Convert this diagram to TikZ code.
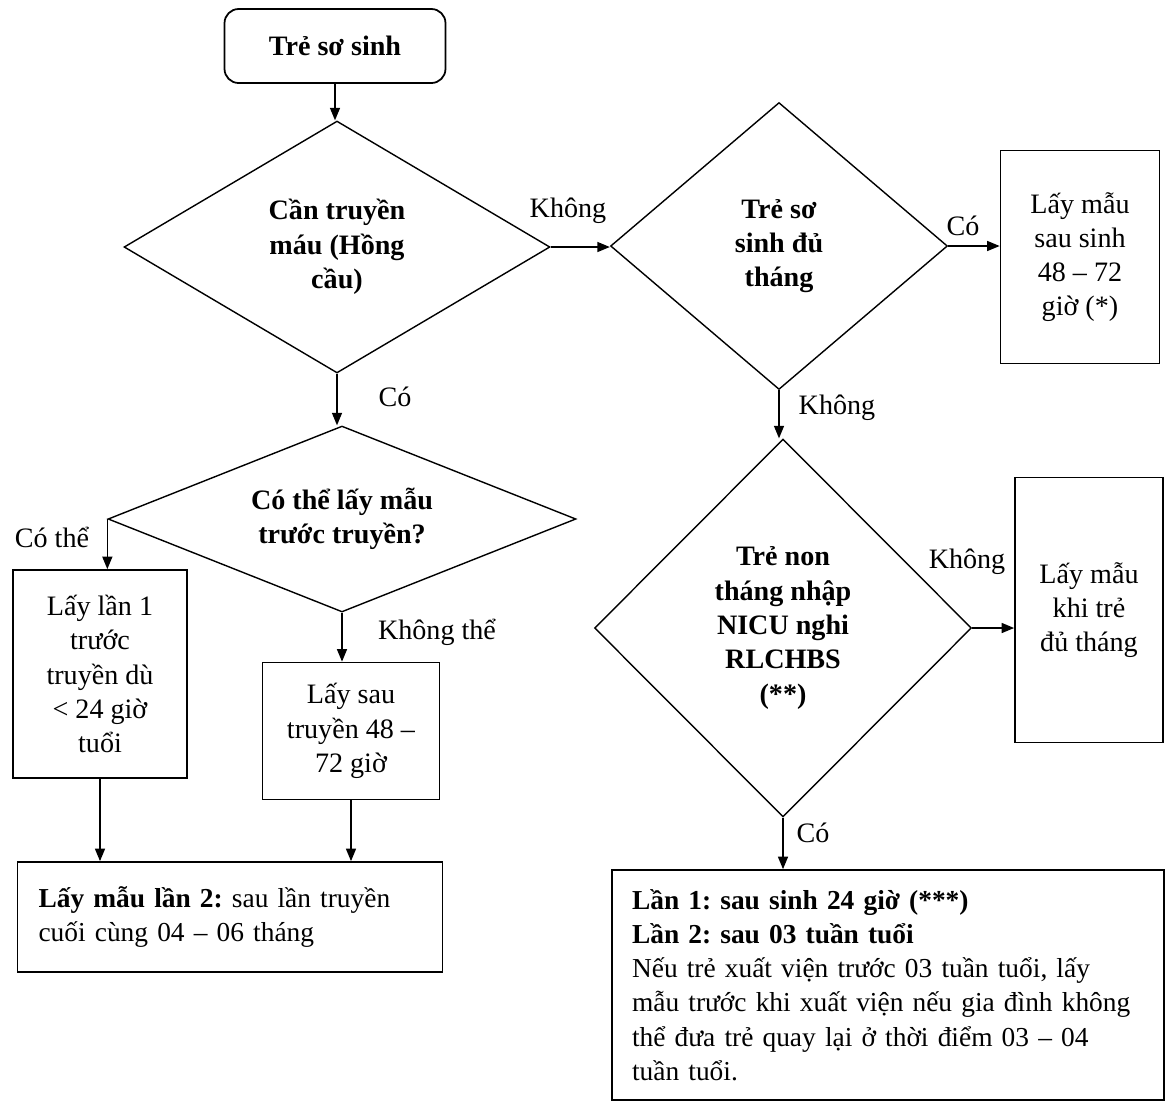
\documentclass[tikz,border=0pt]{standalone}
\usepackage{fontspec}
\setmainfont{Liberation Serif}
\usetikzlibrary{shapes.geometric,arrows.meta}
\frenchspacing
\tikzset{
  chu/.style={font=\fontsize{16}{19.5}\selectfont},
  hop/.style={draw, line width=1pt, align=center, inner sep=2pt, chu},
  hoi/.style={draw, diamond, line width=0.8pt, align=center, inner sep=1pt,
    font=\fontsize{16}{19.5}\selectfont\bfseries},
  muiten/.style={line width=0.8pt, -{Triangle[length=0.25cm,width=0.2cm]}}
}

\begin{document}
\begin{tikzpicture}[x=0.02cm,y=-0.02cm]
    \useasboundingbox (0,0) rectangle (1166,1107);
    % cac o hoi
    \node[hop, rounded corners=8pt, minimum width=4.42cm, minimum height=1.48cm,
      font=\fontsize{16}{19.5}\selectfont\bfseries] (batdau) at (335,46) {Trẻ sơ sinh};
    \node[hoi, aspect=1.7, minimum width=8.52cm, minimum height=5.04cm] (q1) at (337,247)
      {Cần truyền\\máu (Hồng\\cầu)};
    \node[hoi, aspect=2.5, minimum width=9.36cm, minimum height=3.72cm] (q2) at (342,519)
      {Có thể lấy mẫu\\trước truyền?};
    \node[hoi, aspect=1.17, minimum width=6.74cm, minimum height=5.74cm] (q3) at (779,246)
      {Trẻ sơ\\sinh đủ\\tháng};
    \node[hoi, aspect=1, minimum width=7.54cm, minimum height=7.56cm] (q4) at (783,628)
      {Trẻ non\\tháng nhập\\NICU nghi\\RLCHBS\\(**)};
    % cac o ket qua
    \node[hop, minimum width=3.18cm, minimum height=4.26cm] (a1) at (1080,257)
      {Lấy mẫu\\sau sinh\\48 – 72\\giờ (*)};
    \node[hop, minimum width=2.96cm, minimum height=5.3cm] (a2) at (1089,610)
      {Lấy mẫu\\khi trẻ\\đủ tháng};
    \node[hop, align=left, text width=10.24cm, inner xsep=0.4cm, minimum height=4.6cm,
      font=\fontsize{15.6}{19.5}\selectfont] (a3) at (888,985)
      {\textbf{Lần 1: sau sinh 24 giờ (***)}\\
       \textbf{Lần 2: sau 03 tuần tuổi}\\
       Nếu trẻ xuất viện trước 03 tuần tuổi, lấy\\
       mẫu trước khi xuất viện nếu gia đình không\\
       thể đưa trẻ quay lại ở thời điểm 03 – 04\\
       tuần tuổi.};
    \node[hop, minimum width=3.48cm, minimum height=4.16cm] (b1) at (100,674)
      {Lấy lần 1\\trước\\truyền dù\\< 24 giờ\\tuổi};
    \node[hop, minimum width=3.54cm, minimum height=2.74cm] (b2) at (351,731)
      {Lấy sau\\truyền 48 –\\72 giờ};
    \node[hop, align=left, text width=7.66cm, inner xsep=0.42cm, minimum height=2.2cm,
      font=\fontsize{15.6}{19.5}\selectfont] (b3) at (230,917)
      {\textbf{Lấy mẫu lần 2:} sau lần truyền\\cuối cùng 04 – 06 tháng};
    % mui ten
    \draw[muiten] (batdau.south) -- (batdau.south |- q1.north);
    \draw[muiten] (q1.east) -- (q1.east -| q3.west);
    \draw[muiten] (q1.south) -- (q1.south |- q2.north);
    \draw[muiten] (q3.east) -- (q3.east -| a1.west);
    \draw[muiten] (q3.south) -- (q3.south |- q4.north);
    \draw[muiten] (q4.east) -- (q4.east -| a2.west);
    \draw[muiten] (q4.south) -- (q4.south |- a3.north);
    \draw[muiten] (q2.west) -- (q2.west |- b1.north);
    \draw[muiten] (q2.south) -- (q2.south |- b2.north);
    \draw[muiten] (b1.south) -- (b1.south |- b3.north);
    \draw[muiten] (b2.south) -- (b2.south |- b3.north);
    % nhan
    \node[chu] (n1) at (568,211) {Không};
    \node[chu] (n2) at (395,397) {Có};
    \node[chu] (n3) at (963,226) {Có};
    \node[chu] (n4) at (837,408) {Không};
    \node[chu] (n5) at (52,537) {Có thể};
    \node[chu] (n6) at (437,632) {Không thể};
    \node[chu] (n7) at (967,562) {Không};
    \node[chu] (n8) at (813,833) {Có}; % --
\end{tikzpicture}
\end{document}
